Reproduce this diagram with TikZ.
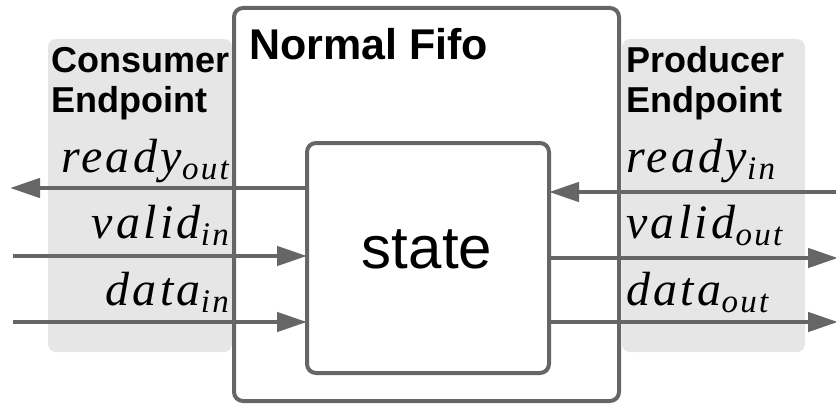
\documentclass[tikz,border=0pt]{standalone}
\usepackage{fontspec}
\setmainfont{Liberation Sans}
\newfontfamily\sigfont[LetterSpace=7]{Liberation Serif}
\usetikzlibrary{arrows.meta}
\definecolor{edge}{HTML}{666666}
\definecolor{zone}{HTML}{E6E6E6}
% signal name with a subscript, set like math italic
\newcommand{\sig}[2]{{\sigfont\itshape\fontsize{48}{48}\selectfont #1}\raisebox{-7pt}{\sigfont\itshape\fontsize{33}{33}\selectfont #2}}

\begin{document}
\begin{tikzpicture}[x=1pt,y=-1pt,
  zonebox/.style={fill=zone, rounded corners=8pt, inner sep=0, outer sep=0},
  blockbox/.style={draw=edge, line width=4pt, rounded corners=9pt, inner sep=0, outer sep=0},
  wire/.style={draw=edge, line width=4.5pt, -{Triangle[length=30pt,width=19pt]}},
  header/.style={font=\fontsize{36}{40}\selectfont\bfseries, align=left, inner sep=0},
  title/.style={font=\fontsize{43}{43}\selectfont\bfseries, inner sep=0},
  siglabel/.style={inner sep=0}]
\useasboundingbox (0,0) rectangle (836,404);

% endpoint zones
\node[zonebox, minimum width=184pt, minimum height=313pt, anchor=north west] (cons) at (48,39) {};
\node[zonebox, minimum width=183pt, minimum height=313pt, anchor=north west] (prod) at (622,39) {};

% fifo block and its state
\node[blockbox, minimum width=385pt, minimum height=393pt, anchor=north west] (fifo) at (234,8) {};
\node[blockbox, fill=white, minimum width=242pt, minimum height=230pt] (state) at (428,258) {};
\node[font=\fontsize{60}{60}\selectfont, inner sep=0, anchor=base] (statetxt) at (427,268) {state};

% headings (base anchor sits on the last line)
\node[title, anchor=base west] (fifotitle) at (249,60) {Normal Fifo};
\node[header, anchor=base west] (constitle) at (51,113) {Consumer\\Endpoint};
\node[header, anchor=base west] (prodtitle) at (626,113) {Producer\\Endpoint};

% signal labels
\node[siglabel, anchor=base east] (lrdyout) at (229,172) {\sig{ready}{out}};
\node[siglabel, anchor=base east] (lvalin) at (229,238) {\sig{valid}{in}};
\node[siglabel, anchor=base east] (ldatin) at (229,305) {\sig{data}{in}};
\node[siglabel, anchor=base west] (lrdyin) at (626,172) {\sig{ready}{in}};
\node[siglabel, anchor=base west] (lvalout) at (626,238) {\sig{valid}{out}};
\node[siglabel, anchor=base west] (ldatout) at (626,305) {\sig{data}{out}};

% free ends of the wires
\coordinate (rdyoutEnd) at (10,188);
\coordinate (valinStart) at (13,256);
\coordinate (datinStart) at (13,322);
\coordinate (rdyinStart) at (840,192);
\coordinate (valoutEnd) at (838,258);
\coordinate (datoutEnd) at (838,322);

% wires
\draw[wire] (state.west |- rdyoutEnd) -- (rdyoutEnd);
\draw[wire] (valinStart) -- (state.west |- valinStart);
\draw[wire] (datinStart) -- (state.west |- datinStart);
\draw[wire] (rdyinStart) -- (state.east |- rdyinStart);
\draw[wire] (state.east |- valoutEnd) -- (valoutEnd);
\draw[wire] (state.east |- datoutEnd) -- (datoutEnd);
\end{tikzpicture}
\end{document}
